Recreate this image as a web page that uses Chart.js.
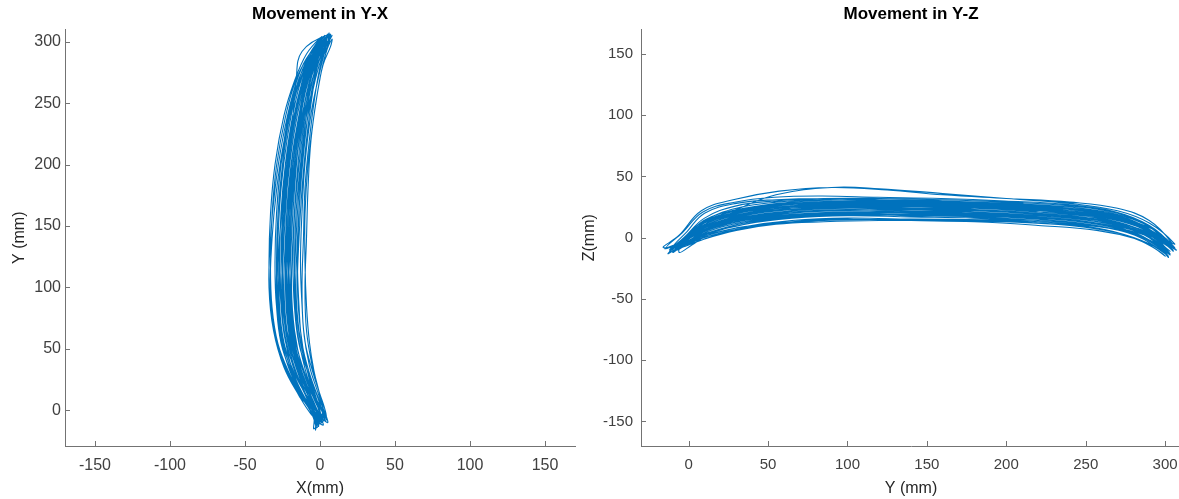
<!DOCTYPE html>
<html>
<head>
<meta charset="utf-8">
<script src="https://cdn.jsdelivr.net/npm/chart.js@4.4.1/dist/chart.umd.min.js"></script>
<style>
  html, body { margin: 0; padding: 0; background: #fff; overflow: hidden; }
  #wrap { position: relative; width: 1179px; height: 499px; }
  #yxChart { position: absolute; left: 0; top: 0; }
  #yzChart { position: absolute; left: 575px; top: 0; }
</style>
</head>
<body>
<div id="wrap">
  <canvas id="yxChart" width="590" height="499"></canvas>
  <canvas id="yzChart" width="606" height="499"></canvas>
</div>
<script>
// posição do marcador (mm), um ciclo de ida e volta por linha
const trackY = [
  -12, -3, 10, 30, 55, 85, 120, 160, 200, 240, 270, 290, 304, 297, 282, 258, 220, 180, 140, 100, 65, 35, 12, 0,
  -8, 0, 12, 32, 55, 85, 120, 160, 200, 240, 270, 291, 302, 296, 281, 256, 220, 180, 140, 100, 65, 35, 12, -1,
  -15, -5, 8, 28, 55, 90, 120, 160, 200, 240, 270, 290, 306, 299, 283, 258, 222, 180, 140, 100, 65, 35, 12, -2,
  -6, 2, 12, 30, 55, 85, 120, 160, 200, 240, 270, 290, 300, 295, 280, 256, 220, 180, 140, 100, 65, 35, 12, 0,
  -10, -1, 10, 30, 55, 85, 120, 160, 200, 240, 270, 290, 305, 298, 283, 258, 220, 180, 140, 100, 65, 35, 12, 0,
  -9, -1, 10, 30, 55, 85, 120, 160, 200, 240, 268, 290, 303, 297, 282, 258, 220, 180, 140, 100, 65, 35, 12, -3,
  -12, -4, 10, 30, 55, 85, 120, 160, 200, 240, 270, 291, 307, 299, 283, 257, 220, 180, 140, 100, 65, 35, 12, 0,
  -7, 1, 12, 30, 55, 85, 120, 160, 200, 240, 268, 292, 306, 298, 282, 258, 220, 180, 140, 100, 65, 35, 12, 0,
  -13, -3, 10, 30, 55, 85, 120, 160, 200, 240, 270, 290, 302, 296, 281, 257, 220, 180, 140, 100, 65, 35, 12, -1,
  -16, -6, 8, 28, 57, 90, 125, 160, 200, 240, 270, 290, 304, 298, 283, 258, 220, 180, 140, 100, 65, 35, 12, 0,
  -10, -2, 10, 30, 55, 85, 120, 160, 200, 240, 270, 290, 301, 296, 282, 257, 220, 180, 140, 100, 65, 35, 12, -2,
  -8, 0, 10, 30, 55, 85, 120, 160, 200, 240, 270, 290, 303, 297, 282, 258, 220, 180, 140, 100, 65, 35, 12, -4, -9,
  -11, -2, 11, 31, 56, 86, 121, 161, 201, 241, 271, 291, 305, 298, 283, 259, 221, 181, 141, 101, 66, 36, 13, -1,
  -7, 1, 12, 31, 54, 84, 119, 159, 199, 239, 269, 290, 302, 296, 281, 257, 219, 179, 139, 99, 64, 34, 11, -2,
  -14, -4, 9, 29, 54, 84, 119, 159, 199, 239, 269, 290, 304, 297, 282, 257, 219, 179, 139, 99, 64, 34, 11, 0,
  -9, -1, 11, 31, 55, 85, 120, 160, 200, 240, 270, 290, 303, 297, 282, 258, 220, 180, 140, 100, 65, 35, 12, -1,
  -6, 2, 13, 32, 56, 86, 121, 161, 201, 241, 271, 291, 306, 299, 284, 259, 221, 181, 141, 101, 66, 36, 13, 0,
  -12, -3, 10, 30, 55, 85, 120, 160, 200, 240, 270, 290, 304, 298, 282, 258, 220, 180, 140, 100, 65, 35, 12, 0,
  -10, -2, 10, 30, 55, 85, 120, 160, 200, 240, 270, 290, 302, 296, 281, 257, 220, 180, 140, 100, 65, 35, 12, 0,
  -8, 0, 11, 31, 55, 85, 120, 160, 200, 240, 270, 290, 305, 298, 283, 258, 220, 180, 140, 100, 65, 35, 12, -2, -8
];
const trackX = [
  -2, -5, -11, -19, -26, -29, -30, -29, -26, -21, -14, -6, 2, -1, -9, -16, -22, -26, -28, -29, -27, -21, -12, -5,
  3, 2, 0, -4, -7, -9, -10, -10, -8, -4, 0, 4, 8, 7, 2, -2, -6, -8, -9, -10, -9, -5, 0, 2,
  -4, -4, -8, -14, -20, -22, -22, -21, -18, -13, -8, -2, 5, 3, -4, -10, -15, -18, -20, -21, -19, -14, -8, -4,
  1, -1, -5, -13, -21, -25, -26, -25, -22, -17, -11, -5, 1, -1, -8, -14, -19, -22, -24, -25, -23, -17, -9, -3,
  5, 3, -1, -7, -12, -14, -15, -14, -12, -8, -3, 2, 8, 5, -1, -5, -9, -12, -14, -15, -13, -9, -4, 0,
  -3, -6, -12, -21, -29, -33, -34, -33, -30, -24, -17, -9, 0, -3, -11, -18, -25, -30, -33, -34, -31, -24, -14, -6,
  2, 0, -3, -8, -13, -16, -17, -16, -13, -9, -3, 2, 6, 5, -1, -6, -10, -13, -15, -16, -14, -9, -3, 0,
  0, -3, -9, -17, -24, -27, -27, -26, -23, -18, -16, -12, 6, 2, -6, -12, -18, -22, -25, -26, -24, -19, -11, -4,
  -1, -2, -6, -12, -18, -21, -22, -21, -18, -14, -9, -3, 3, 2, -4, -9, -14, -18, -20, -21, -19, -13, -6, -2,
  -3, -3, -6, -12, -19, -22, -23, -22, -19, -14, -8, -2, 4, 2, -5, -11, -16, -20, -22, -23, -21, -15, -7, -2,
  -1, -4, -10, -18, -25, -29, -30, -29, -26, -20, -13, -5, 2, 0, -8, -14, -20, -24, -27, -29, -27, -21, -11, -5,
  4, 2, -3, -10, -16, -19, -20, -19, -16, -11, -5, 1, 7, 4, -3, -8, -13, -16, -18, -19, -17, -12, -5, 1, 2,
  -3, -4, -9, -16, -23, -26, -27, -26, -23, -18, -12, -4, 3, 1, -6, -13, -19, -23, -25, -26, -24, -18, -10, -4,
  2, 1, -2, -8, -14, -17, -18, -17, -14, -10, -5, 0, 6, 4, -2, -7, -11, -14, -16, -17, -15, -10, -4, 0,
  -2, -5, -11, -20, -28, -32, -33, -32, -29, -23, -16, -7, 1, -2, -10, -17, -24, -29, -32, -33, -30, -23, -13, -5,
  0, -2, -6, -13, -19, -22, -23, -22, -19, -14, -8, -2, 4, 3, -4, -10, -15, -19, -21, -22, -20, -14, -7, -2,
  4, 3, 0, -5, -10, -12, -13, -12, -10, -6, -1, 3, 7, 6, 1, -3, -7, -10, -11, -12, -11, -7, -1, 2,
  -2, -4, -10, -18, -25, -28, -29, -28, -25, -20, -13, -6, 2, 0, -7, -14, -20, -24, -27, -28, -26, -20, -11, -4,
  1, -1, -6, -14, -21, -24, -25, -24, -21, -16, -10, -3, 3, 2, -5, -11, -17, -21, -23, -24, -22, -16, -8, -2,
  3, 1, -4, -11, -17, -20, -21, -20, -17, -12, -6, 0, 5, 3, -3, -9, -14, -17, -19, -20, -18, -13, -6, -1, 1
];
const trackZ = [
  -10, -1, 14, 24, 29, 31, 30, 29, 27, 24, 18, 7, -9, 0, 12, 21, 25, 28, 29, 30, 28, 22, 12, 2,
  -6, -2, 4, 10, 15, 18, 19, 19, 17, 14, 8, 0, -12, -6, 3, 10, 14, 17, 18, 19, 17, 12, 4, -3,
  -9, -3, 12, 22, 35, 41, 40, 36, 32, 28, 22, 12, -5, -1, 10, 18, 22, 25, 26, 27, 25, 20, 11, 0,
  -12, -6, 2, 8, 12, 14, 15, 15, 14, 11, 4, -6, -15, -10, 0, 8, 12, 14, 15, 16, 14, 9, 2, -5,
  -8, 5, 20, 28, 31, 32, 31, 30, 28, 25, 19, 9, -7, -2, 9, 17, 21, 24, 25, 26, 24, 19, 10, 0,
  -10, -2, 8, 17, 22, 24, 24, 23, 21, 18, 12, 2, -11, -5, 6, 14, 19, 22, 23, 24, 22, 17, 8, -2,
  -11, -4, 9, 20, 26, 28, 28, 27, 25, 22, 16, 6, -10, -4, 5, 12, 16, 18, 19, 20, 18, 13, 5, -4,
  -7, 0, 12, 21, 26, 28, 29, 28, 26, 23, 17, 7, -8, -3, 8, 16, 21, 24, 25, 26, 25, 20, 11, 1,
  -13, -5, 5, 13, 18, 20, 21, 21, 19, 16, 10, 0, -16, -8, 3, 11, 16, 19, 20, 21, 19, 14, 6, -3,
  -8, 2, 22, 31, 38, 41, 39, 35, 32, 29, 24, 14, -4, 0, 12, 20, 25, 28, 30, 31, 29, 24, 14, 2,
  -10, -7, -1, 6, 11, 13, 14, 14, 13, 10, 4, -5, -14, -9, -1, 6, 10, 13, 14, 15, 13, 8, 1, -6,
  -9, -1, 12, 20, 25, 27, 27, 26, 24, 21, 15, 5, -13, -6, 5, 13, 18, 21, 22, 23, 21, 16, 7, -3, -8,
  -9, 1, 15, 23, 27, 29, 29, 28, 26, 23, 17, 6, -11, -3, 9, 17, 22, 25, 26, 27, 25, 20, 10, 0,
  -10, -3, 8, 16, 20, 22, 23, 23, 21, 18, 12, 3, -13, -7, 4, 12, 17, 20, 21, 22, 20, 15, 6, -4,
  -8, 4, 21, 29, 33, 34, 33, 32, 30, 27, 21, 10, -6, -1, 11, 19, 24, 27, 28, 29, 27, 22, 13, 2,
  -11, -4, 3, 11, 16, 18, 19, 18, 17, 14, 8, -2, -14, -8, 2, 9, 13, 16, 17, 18, 16, 11, 3, -5,
  -7, 1, 13, 21, 25, 26, 26, 25, 23, 20, 14, 4, -9, -4, 7, 14, 19, 22, 23, 24, 22, 17, 8, -1,
  -10, 0, 16, 26, 30, 32, 32, 31, 29, 26, 20, 9, -8, -2, 10, 18, 23, 26, 27, 28, 26, 21, 11, 1,
  -12, -5, 6, 14, 18, 20, 21, 20, 19, 16, 10, 1, -15, -9, 2, 10, 15, 18, 19, 20, 18, 13, 5, -4,
  -9, 0, 14, 22, 27, 29, 29, 28, 26, 23, 17, 6, -10, -4, 7, 15, 20, 23, 24, 25, 23, 18, 9, -2, -9
];

const yxTicksX = [-150, -100, -50, 0, 50, 100, 150];
const yxTicksY = [0, 50, 100, 150, 200, 250, 300];
const yzTicksX = [0, 50, 100, 150, 200, 250, 300];
const yzTicksY = [-150, -100, -50, 0, 50, 100, 150];

const lineColor = '#0072BD';
const axisColor = '#737373';
const fontFamily = 'Liberation Sans, Arial, sans-serif';
const labelFont = { family: fontFamily, size: 16 };

// tracinhos para dentro, como no matlab
const innerTicks = {
    id: 'innerTicks',
    afterDraw(chart) {
        const { ctx, chartArea: a, scales: { x, y } } = chart;
        ctx.save();
        ctx.strokeStyle = axisColor;
        ctx.lineWidth = 1;
        ctx.beginPath();
        x.ticks.forEach(t => {
            const px = Math.round(x.getPixelForValue(t.value)) + 0.5;
            ctx.moveTo(px, a.bottom);
            ctx.lineTo(px, a.bottom - 5);
        });
        y.ticks.forEach(t => {
            const py = Math.round(y.getPixelForValue(t.value)) + 0.5;
            ctx.moveTo(a.left, py);
            ctx.lineTo(a.left + 5, py);
        });
        ctx.stroke();
        ctx.restore();
    }
};

function makeAxis(min, max, ticks, title, size, tickPad, tickSize, titlePad, isX) {
    return {
        type: 'linear',
        min: min,
        max: max,
        afterBuildTicks: s => { s.ticks = ticks.map(v => ({ value: v })); },
        afterFit: s => {
            if (isX) s.height = size; else s.width = size;
            s.paddingLeft = 0; s.paddingRight = 0; s.paddingTop = 0; s.paddingBottom = 0;
        },
        grid: { display: true, drawOnChartArea: false, drawTicks: false },
        border: { display: true, color: axisColor, width: 1 },
        ticks: { color: '#404040', font: { family: fontFamily, size: tickSize }, padding: tickPad, maxRotation: 0, autoSkip: false },
        title: { display: true, text: title, color: '#262626', font: labelFont, padding: titlePad }
    };
}

function baseOptions(titleText, scaleX, scaleY, padRight) {
    return {
        responsive: false,
        animation: false,
        layout: { padding: { left: 0, right: padRight, top: 0, bottom: 0 } },
        scales: { x: scaleX, y: scaleY },
        plugins: {
            legend: { display: false },
            tooltip: { enabled: false },
            title: {
                display: true,
                text: titleText,
                fullSize: false,
                color: '#000',
                font: { family: fontFamily, size: 17, weight: 'bold' },
                padding: { top: 4, bottom: 5 }
            }
        }
    };
}

// Gráfico Y-X
const yxPoints = trackX.map((v, i) => ({ x: v, y: trackY[i] }));
const ctxYX = document.getElementById('yxChart').getContext('2d');
const yxChart = new Chart(ctxYX, {
    type: 'scatter',
    data: {
        datasets: [{
            data: yxPoints,
            showLine: true,
            borderColor: lineColor,
            borderWidth: 1.1,
            pointRadius: 0,
            tension: 0.4,
            fill: false
        }]
    },
    options: baseOptions('Movement in Y-X',
        makeAxis(-170, 170, yxTicksX, 'X(mm)', 53, 10, 16, { top: 0, bottom: 1 }, true),
        makeAxis(-29, 310, yxTicksY, 'Y (mm)', 65, 4, 16, { top: 10, bottom: 0 }, false),
        15),
    plugins: [innerTicks]
});

// Gráfico Y-Z
const yzPoints = trackY.map((v, i) => ({ x: v, y: trackZ[i] }));
const ctxYZ = document.getElementById('yzChart').getContext('2d');
const yzChart = new Chart(ctxYZ, {
    type: 'scatter',
    data: {
        datasets: [{
            data: yzPoints,
            showLine: true,
            borderColor: lineColor,
            borderWidth: 1.1,
            pointRadius: 0,
            tension: 0.4,
            fill: false
        }]
    },
    options: baseOptions('Movement in Y-Z',
        makeAxis(-30, 310, yzTicksX, 'Y (mm)', 53, 10, 15, { top: 0, bottom: 1 }, true),
        makeAxis(-170, 170, yzTicksY, 'Z(mm)', 66, 8, 15, { top: 5, bottom: 0 }, false),
        0),
    plugins: [innerTicks]
});
</script>
</body>
</html>
